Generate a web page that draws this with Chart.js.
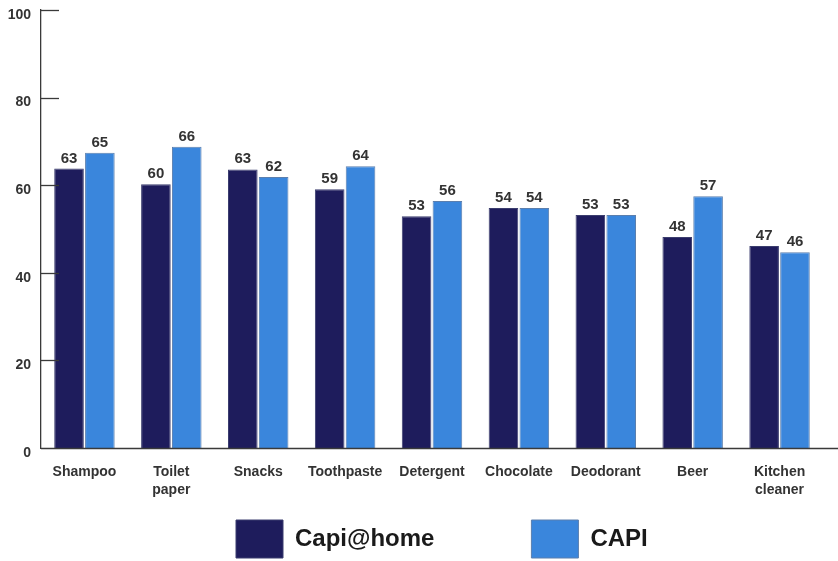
<!DOCTYPE html>
<html>
<head>
<meta charset="utf-8">
<script src="https://cdn.jsdelivr.net/npm/chart.js@4/dist/chart.umd.min.js"></script>
<style>
  html, body { margin: 0; padding: 0; background: #ffffff; }
  #wrap { width: 838px; height: 561px; position: relative; }
</style>
</head>
<body>
<div id="wrap"><canvas id="c"></canvas></div>
<script>
// ---- data ----
const categories = ['Shampoo', ['Toilet', 'paper'], 'Snacks', 'Toothpaste', 'Detergent', 'Chocolate', 'Deodorant', 'Beer', ['Kitchen', 'cleaner']];
const seriesNames = ['Capi@home', 'CAPI'];
const capiHomeValues = [63.8, 60.2, 63.6, 59.1, 52.9, 54.8, 53.2, 48.2, 46.1];
const capiValues = [67.4, 68.8, 61.9, 64.3, 56.4, 54.8, 53.2, 57.5, 44.7];
const capiHomeLabels = [63, 60, 63, 59, 53, 54, 53, 48, 47];
const capiLabels = [65, 66, 62, 64, 56, 54, 53, 57, 46];
const yTicks = [0, 20, 40, 60, 80, 100];

const FONT = "'Liberation Sans', Arial, sans-serif";
const printedLabels = [capiHomeLabels, capiLabels];

// short inner tick marks on the y axis + x axis line running to the edge
const axisMarks = {
  id: 'axisMarks',
  afterDraw(chart) {
    const y = chart.scales.y, ctx = chart.ctx, a = chart.chartArea;
    ctx.save();
    ctx.strokeStyle = '#3a3a3a';
    ctx.lineWidth = 1.3;
    yTicks.forEach(v => {
      if (v === 0) return;
      const py = Math.round(y.getPixelForValue(v)) + 0.5;
      ctx.beginPath();
      ctx.moveTo(a.left, py);
      ctx.lineTo(a.left + 18, py);
      ctx.stroke();
    });
    const px = Math.round(y.getPixelForValue(0)) + 0.5;
    ctx.beginPath();
    ctx.moveTo(a.left, px);
    ctx.lineTo(chart.width, px);
    ctx.stroke();
    ctx.restore();
  }
};

// value labels above bars
const valueLabels = {
  id: 'valueLabels',
  afterDatasetsDraw(chart) {
    const ctx = chart.ctx;
    ctx.save();
    ctx.font = "bold 15px " + FONT;
    ctx.fillStyle = '#333333';
    ctx.textAlign = 'center';
    ctx.textBaseline = 'alphabetic';
    chart.data.datasets.forEach((ds, di) => {
      chart.getDatasetMeta(di).data.forEach((bar, i) => {
        ctx.fillText(String(printedLabels[di][i]), bar.x, bar.y - 6);
      });
    });
    ctx.restore();
  }
};

// place legend like the reference
const legendPlacement = {
  id: 'legendPlacement',
  beforeLayout(chart) {
    const lg = chart.legend;
    if (lg && !lg._patched) {
      const orig = lg.fit;
      lg.fit = function () { orig.call(this); this.height = 60; };
      lg._patched = true;
    }
  },
  beforeDraw(chart) {
    const lg = chart.legend;
    const p = lg.options.labels.padding;
    lg.left = 236 - p;
    lg.top = 520 - p;
  }
};

new Chart(document.getElementById('c'), {
  type: 'bar',
  data: {
    labels: categories,
    datasets: [
      { label: seriesNames[0], data: capiHomeValues, backgroundColor: '#1e1c5c', borderColor: '#3b3d6e', borderWidth: 1 },
      { label: seriesNames[1], data: capiValues, backgroundColor: '#3a86dc', borderColor: '#5b7fae', borderWidth: 1 }
    ]
  },
  options: {
    responsive: true,
    maintainAspectRatio: false,
    animation: false,
    devicePixelRatio: 1,
    layout: { padding: { top: 10, left: 0, right: 15, bottom: 0 } },
    datasets: { bar: { categoryPercentage: 0.71, barPercentage: 0.96 } },
    scales: {
      x: {
        grid: { display: false, drawTicks: false },
        border: { display: false },
        ticks: { color: '#333333', font: { family: FONT, size: 14, weight: 'bold', lineHeight: 1.3 }, padding: 15, maxRotation: 0, autoSkip: false },
        afterFit(s) { s.height = 53; s.paddingLeft = 0; s.paddingRight = 0; }
      },
      y: {
        min: 0, max: 100,
        afterBuildTicks(s) { s.ticks = yTicks.map(v => ({ value: v })); },
        grid: { display: false, drawTicks: false },
        border: { display: true, color: '#3a3a3a', width: 1.3 },
        ticks: { color: '#333333', font: { family: FONT, size: 14, weight: 'bold' }, padding: 10, labelOffset: 5 },
        afterFit(s) { s.width = 41; s.paddingTop = 0; s.paddingBottom = 0; }
      }
    },
    plugins: {
      legend: {
        position: 'bottom',
        align: 'start',
        labels: { boxWidth: 47, boxHeight: 38, padding: 97, color: '#1a1a1a', font: { family: FONT, size: 24, weight: 'bold' } }
      },
      tooltip: { enabled: false }
    }
  },
  plugins: [axisMarks, valueLabels, legendPlacement]
});
</script>
</body>
</html>
